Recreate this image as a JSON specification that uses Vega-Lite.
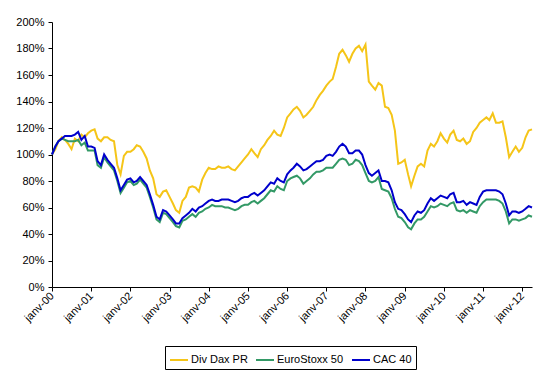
{
"$schema": "https://vega.github.io/schema/vega-lite/v6.json",
"width": 480, "height": 265,
"autosize": "none",
"padding": {"left": 52, "top": 22, "right": 23, "bottom": 90},
"background": "white",
"config": {"view": {"stroke": null}, "font": "Liberation Sans"},
"data": {"values": [
{"d":"2000-01-01","Div Dax PR":100,"EuroStoxx 50":100,"CAC 40":100},
{"d":"2000-02-01","Div Dax PR":104,"EuroStoxx 50":106,"CAC 40":106},
{"d":"2000-03-01","Div Dax PR":110,"EuroStoxx 50":110,"CAC 40":110},
{"d":"2000-04-01","Div Dax PR":113,"EuroStoxx 50":112,"CAC 40":112},
{"d":"2000-05-01","Div Dax PR":111,"EuroStoxx 50":111,"CAC 40":114},
{"d":"2000-06-01","Div Dax PR":108,"EuroStoxx 50":110,"CAC 40":114},
{"d":"2000-07-01","Div Dax PR":104,"EuroStoxx 50":110,"CAC 40":114},
{"d":"2000-08-01","Div Dax PR":112,"EuroStoxx 50":110,"CAC 40":115},
{"d":"2000-09-01","Div Dax PR":110,"EuroStoxx 50":111,"CAC 40":117},
{"d":"2000-10-01","Div Dax PR":115,"EuroStoxx 50":107,"CAC 40":111},
{"d":"2000-11-01","Div Dax PR":113,"EuroStoxx 50":109,"CAC 40":114},
{"d":"2000-12-01","Div Dax PR":116,"EuroStoxx 50":103,"CAC 40":106},
{"d":"2001-01-01","Div Dax PR":118,"EuroStoxx 50":103,"CAC 40":106},
{"d":"2001-02-01","Div Dax PR":119,"EuroStoxx 50":103,"CAC 40":105},
{"d":"2001-03-01","Div Dax PR":112,"EuroStoxx 50":92,"CAC 40":95},
{"d":"2001-04-01","Div Dax PR":110,"EuroStoxx 50":90,"CAC 40":92},
{"d":"2001-05-01","Div Dax PR":113,"EuroStoxx 50":98,"CAC 40":100},
{"d":"2001-06-01","Div Dax PR":113,"EuroStoxx 50":94,"CAC 40":96},
{"d":"2001-07-01","Div Dax PR":111,"EuroStoxx 50":91,"CAC 40":93},
{"d":"2001-08-01","Div Dax PR":110,"EuroStoxx 50":88,"CAC 40":90},
{"d":"2001-09-01","Div Dax PR":92,"EuroStoxx 50":80,"CAC 40":82},
{"d":"2001-10-01","Div Dax PR":85,"EuroStoxx 50":71,"CAC 40":73},
{"d":"2001-11-01","Div Dax PR":99,"EuroStoxx 50":75,"CAC 40":77},
{"d":"2001-12-01","Div Dax PR":102,"EuroStoxx 50":79,"CAC 40":81},
{"d":"2002-01-01","Div Dax PR":102,"EuroStoxx 50":80,"CAC 40":82},
{"d":"2002-02-01","Div Dax PR":104,"EuroStoxx 50":77,"CAC 40":79},
{"d":"2002-03-01","Div Dax PR":107,"EuroStoxx 50":78,"CAC 40":80},
{"d":"2002-04-01","Div Dax PR":106,"EuroStoxx 50":81,"CAC 40":83},
{"d":"2002-05-01","Div Dax PR":102,"EuroStoxx 50":78,"CAC 40":80},
{"d":"2002-06-01","Div Dax PR":97,"EuroStoxx 50":75,"CAC 40":77},
{"d":"2002-07-01","Div Dax PR":88,"EuroStoxx 50":68,"CAC 40":70},
{"d":"2002-08-01","Div Dax PR":82,"EuroStoxx 50":60,"CAC 40":62},
{"d":"2002-09-01","Div Dax PR":70,"EuroStoxx 50":51,"CAC 40":53},
{"d":"2002-10-01","Div Dax PR":68,"EuroStoxx 50":49,"CAC 40":51},
{"d":"2002-11-01","Div Dax PR":72,"EuroStoxx 50":56,"CAC 40":58},
{"d":"2002-12-01","Div Dax PR":73,"EuroStoxx 50":55,"CAC 40":57},
{"d":"2003-01-01","Div Dax PR":68,"EuroStoxx 50":52,"CAC 40":54},
{"d":"2003-02-01","Div Dax PR":63,"EuroStoxx 50":49,"CAC 40":51},
{"d":"2003-03-01","Div Dax PR":58,"EuroStoxx 50":46,"CAC 40":48},
{"d":"2003-04-01","Div Dax PR":56,"EuroStoxx 50":45,"CAC 40":48},
{"d":"2003-05-01","Div Dax PR":65,"EuroStoxx 50":50,"CAC 40":52},
{"d":"2003-06-01","Div Dax PR":68,"EuroStoxx 50":51,"CAC 40":54},
{"d":"2003-07-01","Div Dax PR":75,"EuroStoxx 50":53,"CAC 40":56},
{"d":"2003-08-01","Div Dax PR":76,"EuroStoxx 50":55,"CAC 40":59},
{"d":"2003-09-01","Div Dax PR":75,"EuroStoxx 50":53,"CAC 40":57},
{"d":"2003-10-01","Div Dax PR":72,"EuroStoxx 50":56,"CAC 40":60},
{"d":"2003-11-01","Div Dax PR":81,"EuroStoxx 50":57,"CAC 40":61},
{"d":"2003-12-01","Div Dax PR":86,"EuroStoxx 50":59,"CAC 40":63},
{"d":"2004-01-01","Div Dax PR":90,"EuroStoxx 50":60,"CAC 40":65},
{"d":"2004-02-01","Div Dax PR":89,"EuroStoxx 50":62,"CAC 40":66},
{"d":"2004-03-01","Div Dax PR":89,"EuroStoxx 50":61,"CAC 40":65},
{"d":"2004-04-01","Div Dax PR":91,"EuroStoxx 50":61,"CAC 40":65},
{"d":"2004-05-01","Div Dax PR":90,"EuroStoxx 50":61,"CAC 40":66},
{"d":"2004-06-01","Div Dax PR":90,"EuroStoxx 50":60,"CAC 40":66},
{"d":"2004-07-01","Div Dax PR":91,"EuroStoxx 50":60,"CAC 40":66},
{"d":"2004-08-01","Div Dax PR":89,"EuroStoxx 50":59,"CAC 40":65},
{"d":"2004-09-01","Div Dax PR":88,"EuroStoxx 50":58,"CAC 40":64},
{"d":"2004-10-01","Div Dax PR":91,"EuroStoxx 50":59,"CAC 40":65},
{"d":"2004-11-01","Div Dax PR":94,"EuroStoxx 50":61,"CAC 40":67},
{"d":"2004-12-01","Div Dax PR":97,"EuroStoxx 50":62,"CAC 40":68},
{"d":"2005-01-01","Div Dax PR":100,"EuroStoxx 50":62,"CAC 40":68},
{"d":"2005-02-01","Div Dax PR":104,"EuroStoxx 50":64,"CAC 40":70},
{"d":"2005-03-01","Div Dax PR":101,"EuroStoxx 50":65,"CAC 40":71},
{"d":"2005-04-01","Div Dax PR":98,"EuroStoxx 50":63,"CAC 40":69},
{"d":"2005-05-01","Div Dax PR":104,"EuroStoxx 50":65,"CAC 40":71},
{"d":"2005-06-01","Div Dax PR":107,"EuroStoxx 50":67,"CAC 40":73},
{"d":"2005-07-01","Div Dax PR":111,"EuroStoxx 50":70,"CAC 40":76},
{"d":"2005-08-01","Div Dax PR":114,"EuroStoxx 50":73,"CAC 40":79},
{"d":"2005-09-01","Div Dax PR":118,"EuroStoxx 50":72,"CAC 40":78},
{"d":"2005-10-01","Div Dax PR":115,"EuroStoxx 50":76,"CAC 40":82},
{"d":"2005-11-01","Div Dax PR":114,"EuroStoxx 50":74,"CAC 40":80},
{"d":"2005-12-01","Div Dax PR":120,"EuroStoxx 50":73,"CAC 40":79},
{"d":"2006-01-01","Div Dax PR":128,"EuroStoxx 50":80,"CAC 40":85},
{"d":"2006-02-01","Div Dax PR":131,"EuroStoxx 50":82,"CAC 40":88},
{"d":"2006-03-01","Div Dax PR":134,"EuroStoxx 50":83,"CAC 40":90},
{"d":"2006-04-01","Div Dax PR":136,"EuroStoxx 50":84,"CAC 40":93},
{"d":"2006-05-01","Div Dax PR":133,"EuroStoxx 50":82,"CAC 40":91},
{"d":"2006-06-01","Div Dax PR":128,"EuroStoxx 50":78,"CAC 40":88},
{"d":"2006-07-01","Div Dax PR":130,"EuroStoxx 50":80,"CAC 40":89},
{"d":"2006-08-01","Div Dax PR":133,"EuroStoxx 50":82,"CAC 40":91},
{"d":"2006-09-01","Div Dax PR":136,"EuroStoxx 50":85,"CAC 40":93},
{"d":"2006-10-01","Div Dax PR":141,"EuroStoxx 50":87,"CAC 40":95},
{"d":"2006-11-01","Div Dax PR":145,"EuroStoxx 50":87,"CAC 40":95},
{"d":"2006-12-01","Div Dax PR":148,"EuroStoxx 50":88,"CAC 40":96},
{"d":"2007-01-01","Div Dax PR":152,"EuroStoxx 50":90,"CAC 40":99},
{"d":"2007-02-01","Div Dax PR":155,"EuroStoxx 50":90,"CAC 40":100},
{"d":"2007-03-01","Div Dax PR":157,"EuroStoxx 50":90,"CAC 40":99},
{"d":"2007-04-01","Div Dax PR":166,"EuroStoxx 50":93,"CAC 40":102},
{"d":"2007-05-01","Div Dax PR":176,"EuroStoxx 50":96,"CAC 40":106},
{"d":"2007-06-01","Div Dax PR":179,"EuroStoxx 50":97,"CAC 40":108},
{"d":"2007-07-01","Div Dax PR":175,"EuroStoxx 50":96,"CAC 40":106},
{"d":"2007-08-01","Div Dax PR":170,"EuroStoxx 50":92,"CAC 40":101},
{"d":"2007-09-01","Div Dax PR":176,"EuroStoxx 50":93,"CAC 40":101},
{"d":"2007-10-01","Div Dax PR":180,"EuroStoxx 50":96,"CAC 40":103},
{"d":"2007-11-01","Div Dax PR":182,"EuroStoxx 50":95,"CAC 40":103},
{"d":"2007-12-01","Div Dax PR":178,"EuroStoxx 50":92,"CAC 40":100},
{"d":"2008-01-01","Div Dax PR":183,"EuroStoxx 50":86,"CAC 40":92},
{"d":"2008-02-01","Div Dax PR":155,"EuroStoxx 50":80,"CAC 40":86},
{"d":"2008-03-01","Div Dax PR":152,"EuroStoxx 50":79,"CAC 40":84},
{"d":"2008-04-01","Div Dax PR":149,"EuroStoxx 50":80,"CAC 40":86},
{"d":"2008-05-01","Div Dax PR":154,"EuroStoxx 50":83,"CAC 40":88},
{"d":"2008-06-01","Div Dax PR":152,"EuroStoxx 50":74,"CAC 40":80},
{"d":"2008-07-01","Div Dax PR":136,"EuroStoxx 50":73,"CAC 40":80},
{"d":"2008-08-01","Div Dax PR":135,"EuroStoxx 50":72,"CAC 40":79},
{"d":"2008-09-01","Div Dax PR":130,"EuroStoxx 50":67,"CAC 40":73},
{"d":"2008-10-01","Div Dax PR":118,"EuroStoxx 50":59,"CAC 40":64},
{"d":"2008-11-01","Div Dax PR":93,"EuroStoxx 50":53,"CAC 40":59},
{"d":"2008-12-01","Div Dax PR":94,"EuroStoxx 50":52,"CAC 40":58},
{"d":"2009-01-01","Div Dax PR":96,"EuroStoxx 50":49,"CAC 40":55},
{"d":"2009-02-01","Div Dax PR":85,"EuroStoxx 50":45,"CAC 40":51},
{"d":"2009-03-01","Div Dax PR":76,"EuroStoxx 50":43.5,"CAC 40":49},
{"d":"2009-04-01","Div Dax PR":84,"EuroStoxx 50":48,"CAC 40":54},
{"d":"2009-05-01","Div Dax PR":91,"EuroStoxx 50":51,"CAC 40":57},
{"d":"2009-06-01","Div Dax PR":93,"EuroStoxx 50":51,"CAC 40":56},
{"d":"2009-07-01","Div Dax PR":91,"EuroStoxx 50":53,"CAC 40":58},
{"d":"2009-08-01","Div Dax PR":103,"EuroStoxx 50":57,"CAC 40":63},
{"d":"2009-09-01","Div Dax PR":108,"EuroStoxx 50":61,"CAC 40":67},
{"d":"2009-10-01","Div Dax PR":106,"EuroStoxx 50":60,"CAC 40":65},
{"d":"2009-11-01","Div Dax PR":110,"EuroStoxx 50":61,"CAC 40":67},
{"d":"2009-12-01","Div Dax PR":116,"EuroStoxx 50":63,"CAC 40":69},
{"d":"2010-01-01","Div Dax PR":112,"EuroStoxx 50":62,"CAC 40":68},
{"d":"2010-02-01","Div Dax PR":109,"EuroStoxx 50":61,"CAC 40":67},
{"d":"2010-03-01","Div Dax PR":115,"EuroStoxx 50":63,"CAC 40":70},
{"d":"2010-04-01","Div Dax PR":118,"EuroStoxx 50":64,"CAC 40":71},
{"d":"2010-05-01","Div Dax PR":111,"EuroStoxx 50":58,"CAC 40":64},
{"d":"2010-06-01","Div Dax PR":110,"EuroStoxx 50":57,"CAC 40":64},
{"d":"2010-07-01","Div Dax PR":112,"EuroStoxx 50":58,"CAC 40":65},
{"d":"2010-08-01","Div Dax PR":108,"EuroStoxx 50":56,"CAC 40":62},
{"d":"2010-09-01","Div Dax PR":110,"EuroStoxx 50":58,"CAC 40":64},
{"d":"2010-10-01","Div Dax PR":117,"EuroStoxx 50":57,"CAC 40":63},
{"d":"2010-11-01","Div Dax PR":120,"EuroStoxx 50":56,"CAC 40":62},
{"d":"2010-12-01","Div Dax PR":124,"EuroStoxx 50":61,"CAC 40":68},
{"d":"2011-01-01","Div Dax PR":126,"EuroStoxx 50":64,"CAC 40":72},
{"d":"2011-02-01","Div Dax PR":128,"EuroStoxx 50":66,"CAC 40":73},
{"d":"2011-03-01","Div Dax PR":126,"EuroStoxx 50":66,"CAC 40":73},
{"d":"2011-04-01","Div Dax PR":131,"EuroStoxx 50":66,"CAC 40":73},
{"d":"2011-05-01","Div Dax PR":124,"EuroStoxx 50":66,"CAC 40":73},
{"d":"2011-06-01","Div Dax PR":124,"EuroStoxx 50":65,"CAC 40":72},
{"d":"2011-07-01","Div Dax PR":125,"EuroStoxx 50":63,"CAC 40":70},
{"d":"2011-08-01","Div Dax PR":113,"EuroStoxx 50":57,"CAC 40":63},
{"d":"2011-09-01","Div Dax PR":98,"EuroStoxx 50":48,"CAC 40":54},
{"d":"2011-10-01","Div Dax PR":102,"EuroStoxx 50":51,"CAC 40":57},
{"d":"2011-11-01","Div Dax PR":106,"EuroStoxx 50":51,"CAC 40":57},
{"d":"2011-12-01","Div Dax PR":102,"EuroStoxx 50":50,"CAC 40":56},
{"d":"2012-01-01","Div Dax PR":105,"EuroStoxx 50":51,"CAC 40":57},
{"d":"2012-02-01","Div Dax PR":113,"EuroStoxx 50":52,"CAC 40":59},
{"d":"2012-03-01","Div Dax PR":118,"EuroStoxx 50":54,"CAC 40":61},
{"d":"2012-04-01","Div Dax PR":119,"EuroStoxx 50":53,"CAC 40":60}
]},
"transform": [{"fold": ["Div Dax PR", "EuroStoxx 50", "CAC 40"], "as": ["series", "value"]}],
"mark": {"type": "line", "strokeWidth": 2},
"encoding": {
  "x": {"field": "d", "type": "temporal",
    "scale": {"type": "utc", "nice": false, "domain": [{"year": 2000, "month": 1, "date": 1, "utc": true}, {"year": 2012, "month": 4, "date": 1, "utc": true}]},
    "axis": {"title": null, "grid": false,
      "values": [{"year":2000,"month":1,"date":1,"utc":true},{"year":2001,"month":1,"date":1,"utc":true},{"year":2002,"month":1,"date":1,"utc":true},{"year":2003,"month":1,"date":1,"utc":true},{"year":2004,"month":1,"date":1,"utc":true},{"year":2005,"month":1,"date":1,"utc":true},{"year":2006,"month":1,"date":1,"utc":true},{"year":2007,"month":1,"date":1,"utc":true},{"year":2008,"month":1,"date":1,"utc":true},{"year":2009,"month":1,"date":1,"utc":true},{"year":2010,"month":1,"date":1,"utc":true},{"year":2011,"month":1,"date":1,"utc":true},{"year":2012,"month":1,"date":1,"utc":true}],
      "labelExpr": "'janv-' + utcFormat(datum.value, '%y')",
      "labelAngle": -45, "labelAlign": "right", "labelBaseline": "middle",
      "labelFontSize": 11, "labelColor": "black", "labelPadding": 3,
      "domainColor": "black", "tickColor": "black", "tickSize": 4, "labelFlush": false, "labelOverlap": false}},
  "y": {"field": "value", "type": "quantitative",
    "scale": {"domain": [0, 200], "nice": false},
    "axis": {"title": null, "grid": false, "values": [0,20,40,60,80,100,120,140,160,180,200],
      "labelExpr": "datum.value + '%'", "labelFontSize": 11, "labelColor": "black",
      "domainColor": "black", "tickColor": "black", "tickSize": 4, "labelPadding": 4}},
  "color": {"field": "series", "type": "nominal",
    "scale": {"domain": ["Div Dax PR", "EuroStoxx 50", "CAC 40"], "range": ["#F5C518", "#339966", "#0000CC"]},
    "legend": {"title": null, "orient": "none", "legendX": 113, "legendY": 324, "direction": "horizontal",
      "symbolType": "stroke", "symbolSize": 324, "symbolStrokeWidth": 2,
      "labelFontSize": 11, "labelColor": "black", "labelOffset": 2, "columnPadding": 4,
      "strokeColor": "black", "padding": 4, "fillColor": "white"}}
}
}
